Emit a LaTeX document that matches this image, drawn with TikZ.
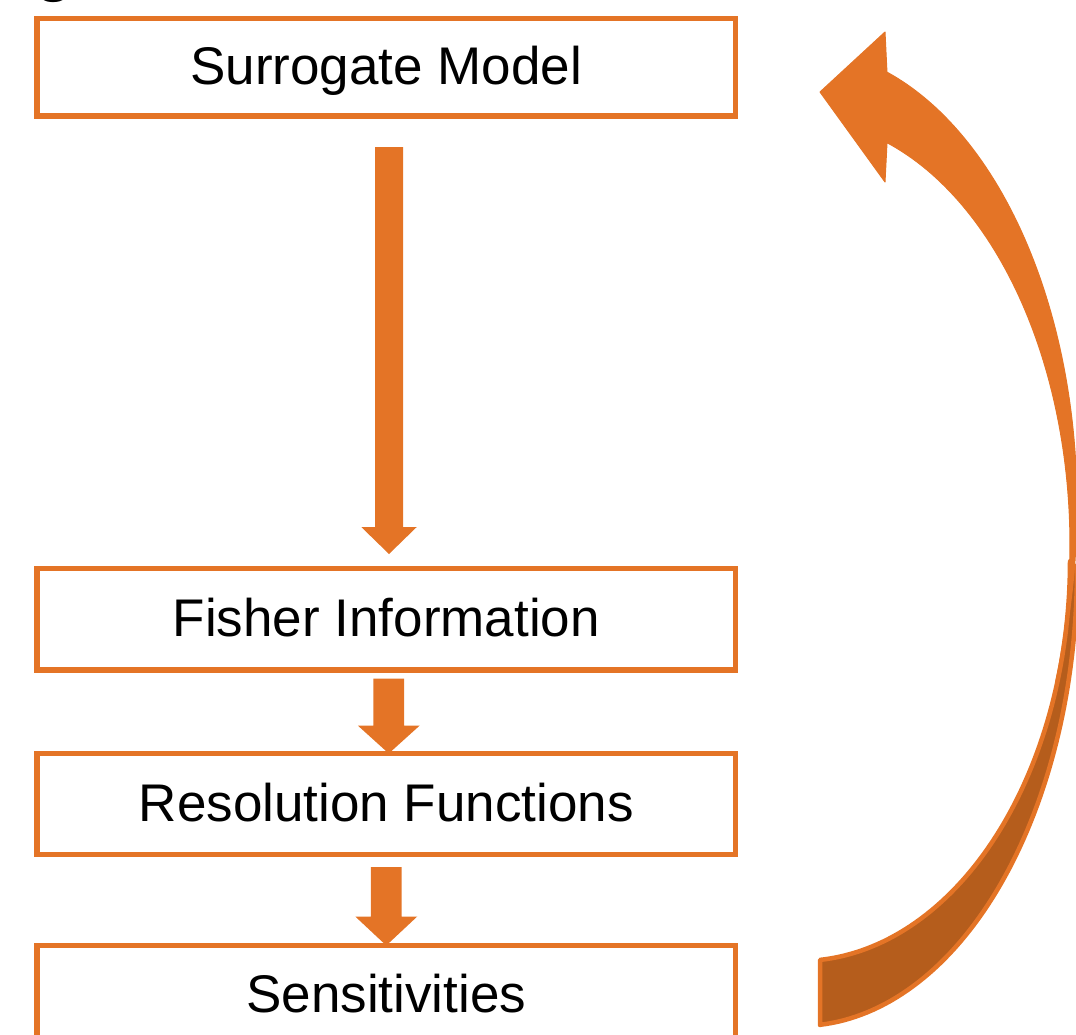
\documentclass[tikz,border=0pt]{standalone}
\usepackage{fontspec}
\setmainfont{Liberation Sans}
\usetikzlibrary{calc}
\definecolor{flow}{RGB}{228,116,38}
\definecolor{flowback}{RGB}{181,93,28}

% straight block arrow: #1 start, #2 tip, #3 half shaft width, #4 half head width, #5 head length
\newcommand\blockarrow[5]{%
  \fill[flow] ($(#1)+(-#3,0)$) -- ($(#1)+(#3,0)$) -- ($(#2)+(#3,-#5)$)
    -- ($(#2)+(#4,-#5)$) -- (#2) -- ($(#2)+(-#4,-#5)$) -- ($(#2)+(-#3,-#5)$) -- cycle;}

\begin{document}
\begin{tikzpicture}[x=1pt,y=-1pt,
  stage/.style={draw=flow, line width=5.5pt, fill=white, minimum width=698.5pt,
    outer sep=0pt, inner sep=0pt, text height=38pt, text depth=3.6pt,
    font=\fontsize{53}{60}\selectfont},
]
\useasboundingbox (0,0) rectangle (1076,1034);
\clip (0,0) rectangle (1076,1034);

% end of the heading line above
\node[font=\fontsize{62}{70}\selectfont\bfseries, anchor=base, inner sep=0pt] (heading) at (54,-10.5) {g};

% process stages
\node[stage, minimum height=97.5pt] (surr) at (386.25,67.25) {Surrogate Model};
\node[stage, minimum height=101.5pt] (fish) at (386.25,619.25) {Fisher Information};
\node[stage, minimum height=101pt] (reso) at (386.25,804) {Resolution Functions};
\node[stage, minimum height=100pt] (sens) at (386.25,995.5) {Sensitivities};

% downward block arrows
\coordinate (a1) at ($(surr.south)+(2.75,31)$);
\coordinate (a2) at ($(fish.north)+(2.75,-14.5)$);
\coordinate (b1) at ($(fish.south)+(2.5,8.5)$);
\coordinate (b2) at ($(reso.north)+(2.5,0)$);
\coordinate (c1) at ($(reso.south)+(0,12.5)$);
\coordinate (c2) at (sens.north);
\blockarrow{a1}{a2}{14}{27.75}{27}
\blockarrow{b1}{b2}{15.3}{31}{28}
\blockarrow{c1}{c2}{15.3}{31}{29}

% return ribbon: back face near the tail
\filldraw[fill=flowback, draw=flow, line width=4.5pt, line join=round]
  (820,1025) -- plot[domain=85.86:0, samples=70, variable=\t] ({800+277*cos(\t)},{569+457*sin(\t)})
  -- plot[domain=0:85.75, samples=70, variable=\t] ({800+270*cos(\t)},{561+400*sin(\t)}) -- cycle;

% return ribbon: front face with the arrow head
\filldraw[fill=flow, draw=flow, line width=1pt, line join=round]
  (887,73) -- plot[domain=-71.7:22.65, samples=80, variable=\t] ({800+277*cos(\t)},{506+457*sin(\t)})
  -- plot[domain=18.8:-71.2, samples=80, variable=\t] ({800+270*cos(\t)},{545+425*sin(\t)})
  -- (885,182) -- (820,92) -- (885,32) -- cycle;
\end{tikzpicture}
\end{document}
